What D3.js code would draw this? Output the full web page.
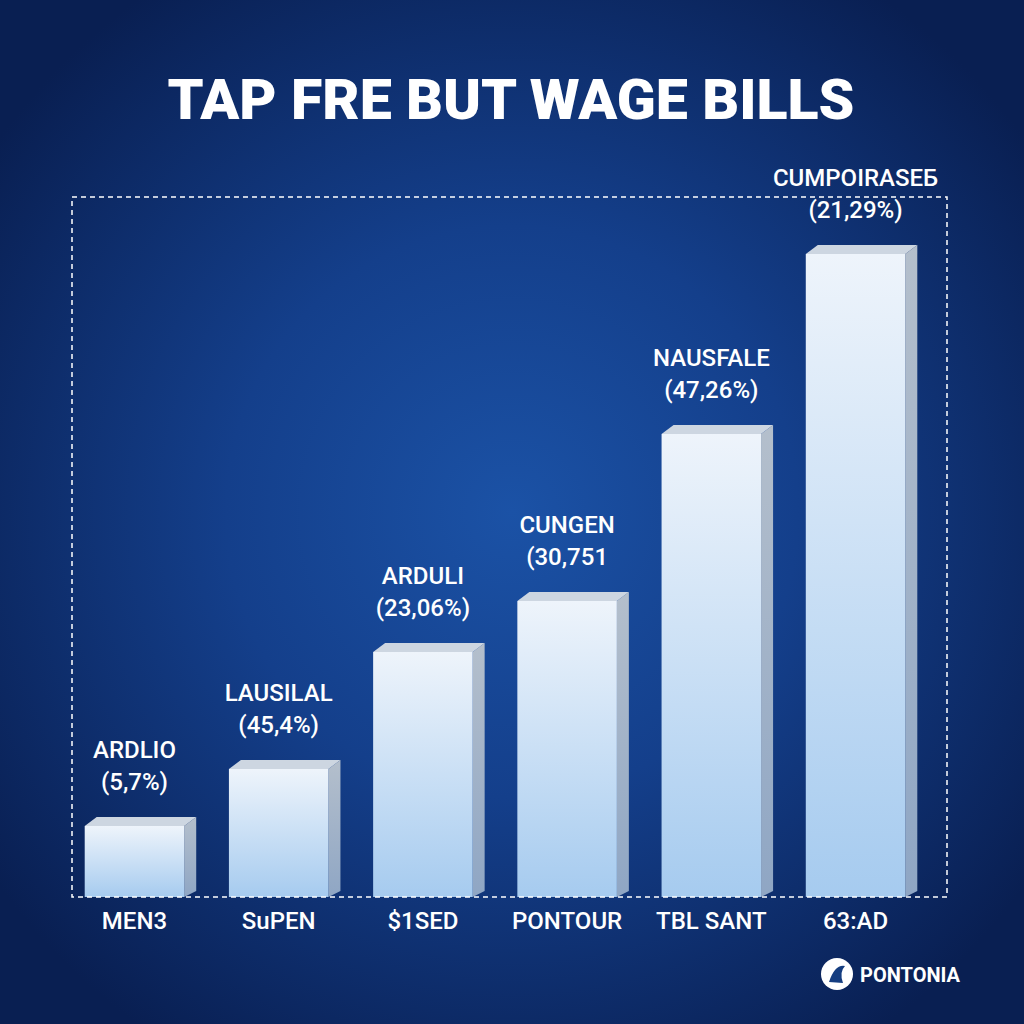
<!DOCTYPE html>
<html><head><meta charset="utf-8">
<script src="https://cdn.jsdelivr.net/npm/d3@7"></script>
<style>html,body{margin:0;padding:0;background:#0b2358;}svg{display:block;}</style>
</head><body>
<script>
const title = "TAP FRE BUT WAGE BILLS";
const categories = ["MEN3", "SuPEN", "$1SED", "PONTOUR", "TBL SANT", "63:AD"];
const barNames = ["ARDLIO", "LAUSILAL", "ARDULI", "CUNGEN", "NAUSFALE", "CUMPOIRASEБ"];
const barLabels = ["(5,7%)", "(45,4%)", "(23,06%)", "(30,751", "(47,26%)", "(21,29%)"];
const values = [71, 128, 245, 296, 463, 643];
const yMax = 700;
const brand = "PONTONIA";

const W = 1024, H = 1024;
const svg = d3.select("body").append("svg").attr("width", W).attr("height", H);
const defs = svg.append("defs");

const bg = defs.append("radialGradient").attr("id", "bg").attr("cx", "50%").attr("cy", "50%").attr("r", "62%");
bg.append("stop").attr("offset", "0%").attr("stop-color", "#1b52a6");
bg.append("stop").attr("offset", "45%").attr("stop-color", "#143f8b");
bg.append("stop").attr("offset", "100%").attr("stop-color", "#091f52");
svg.append("rect").attr("width", W).attr("height", H).attr("fill", "url(#bg)");

const front = defs.append("linearGradient").attr("id", "front").attr("x1", 0).attr("y1", 0).attr("x2", 0).attr("y2", 1);
front.append("stop").attr("offset", "0%").attr("stop-color", "#eef4fb");
front.append("stop").attr("offset", "100%").attr("stop-color", "#a6cbef");
const side = defs.append("linearGradient").attr("id", "side").attr("x1", 0).attr("y1", 0).attr("x2", 0).attr("y2", 1);
side.append("stop").attr("offset", "0%").attr("stop-color", "#b4bfcc");
side.append("stop").attr("offset", "100%").attr("stop-color", "#8fa6c4");

const plot = {left: 72, right: 947, top: 197, bottom: 897};
const x = d3.scaleBand().domain(categories).range([40, 950]).paddingInner(0.31).paddingOuter(0.31);
const y = d3.scaleLinear().domain([0, yMax]).range([plot.bottom, plot.top]);
const dx = 12, dy = 9;

// title
svg.append("text").attr("x", 511).attr("y", 119).attr("text-anchor", "middle")
  .attr("font-family", "Roboto, 'DejaVu Sans', sans-serif").attr("font-weight", 900)
  .attr("font-size", 56).attr("fill", "#ffffff")
  .attr("textLength", 687).attr("lengthAdjust", "spacingAndGlyphs").text(title);

// bars
const g = svg.append("g");
const data = categories.map((c, i) => ({c, v: values[i], n: barNames[i], l: barLabels[i]}));
const bars = g.selectAll("g.bar").data(data).join("g").attr("class", "bar");
bars.append("path").attr("fill", "url(#side)").attr("d", d => {
  const x1 = x(d.c) + x.bandwidth(), t = y(d.v), b = y(0);
  return `M${x1},${t}L${x1+dx},${t-dy}L${x1+dx},${b-6}L${x1},${b}Z`;
});
bars.append("path").attr("fill", "#cdd6e1").attr("d", d => {
  const x0 = x(d.c), x1 = x0 + x.bandwidth(), t = y(d.v);
  return `M${x0},${t}L${x0+dx},${t-dy}L${x1+dx},${t-dy}L${x1},${t}Z`;
});
bars.append("rect").attr("x", d => x(d.c)).attr("y", d => y(d.v))
  .attr("width", x.bandwidth()).attr("height", d => y(0) - y(d.v)).attr("fill", "url(#front)");

// dashed frame
svg.append("rect").attr("x", plot.left).attr("y", plot.top)
  .attr("width", plot.right - plot.left).attr("height", plot.bottom - plot.top)
  .attr("fill", "none").attr("stroke", "#ffffff").attr("stroke-width", 1.5).attr("stroke-dasharray", "5,4");

// labels above bars
const font = "Roboto, 'Liberation Sans', sans-serif";
bars.append("text").attr("x", d => x(d.c) + x.bandwidth() / 2).attr("y", d => y(d.v) - 68)
  .attr("text-anchor", "middle").attr("font-family", font).attr("font-weight", 500)
  .attr("font-size", 24).attr("fill", "#ffffff").text(d => d.n);
bars.append("text").attr("x", d => x(d.c) + x.bandwidth() / 2).attr("y", d => y(d.v) - 36)
  .attr("text-anchor", "middle").attr("font-family", font).attr("font-weight", 500)
  .attr("font-size", 24).attr("fill", "#ffffff").text(d => d.l);

// x axis
const xAxis = svg.append("g").attr("transform", `translate(0,${plot.bottom})`)
  .call(d3.axisBottom(x).tickSize(0).tickPadding(10));
xAxis.select(".domain").remove();
xAxis.selectAll("text").attr("font-family", font).attr("font-weight", 500)
  .attr("font-size", 24).attr("fill", "#ffffff").attr("dy", "0.9em");

// brand
const bx = 837, by = 974;
svg.append("circle").attr("cx", bx).attr("cy", by).attr("r", 16).attr("fill", "#ffffff");
svg.append("path").attr("d", `M${bx-8},${by+8}Q${bx-2},${by-10} ${bx+8},${by-8}Q${bx+2},${by-2} ${bx+6},${by+9}Z`).attr("fill", "#153d80");
svg.append("text").attr("x", 860).attr("y", 982).attr("font-family", font).attr("font-weight", 700)
  .attr("font-size", 20).attr("fill", "#ffffff").text(brand);
</script>
</body></html>
